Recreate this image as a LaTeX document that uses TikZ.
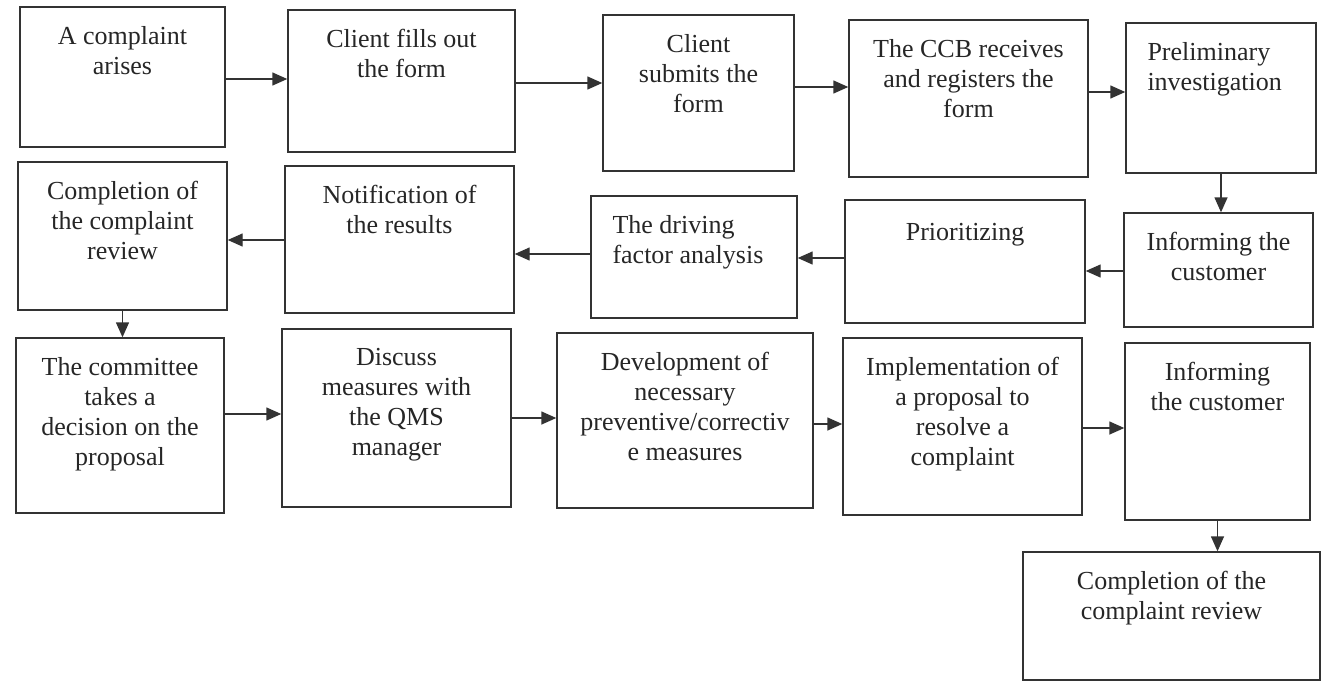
\documentclass[tikz,border=0pt]{standalone}
\usepackage{fontspec}
\setmainfont{Liberation Serif}
\usetikzlibrary{arrows.meta}

\definecolor{boxgray}{HTML}{333333}

\tikzset{
	procbox/.style={draw=boxgray,line width=1.4pt,inner sep=0pt},
	boxtext/.style={anchor=north,inner sep=0pt,yshift=-20pt,align=center,
		text=black!85,font=\fontsize{26}{30}\selectfont,execute at begin node=\strut},
	boxtextleft/.style={boxtext,anchor=north west,align=left,xshift=22pt},
	flow/.style={draw=boxgray,line width=1.4pt,-{Triangle[length=15pt,width=13pt]}}
}

\begin{document}
\begin{tikzpicture}[x=1pt,y=-1pt]
	\useasboundingbox (0,0) rectangle (1327,686);

	% First row, left to right:
	\node [procbox,minimum width=205pt,minimum height=140pt,
		label={[boxtext]north:{A complaint\\arises}}] (arises) at (122.5,77) {};
	\node [procbox,minimum width=227pt,minimum height=142pt,
		label={[boxtext]north:{Client fills out\\the form}}] (fills) at (401.5,81) {};
	\node [procbox,minimum width=191pt,minimum height=156pt,
		label={[boxtext]north:{Client\\submits the\\form}}] (submits) at (698.5,93) {};
	\node [procbox,minimum width=239pt,minimum height=157pt,
		label={[boxtext]north:{The CCB receives\\and registers the\\form}}] (registers) at (968.5,98.5) {};
	\node [procbox,minimum width=190pt,minimum height=150pt,
		label={[boxtextleft]north west:{Preliminary\\investigation}}] (prelim) at (1221,98) {};

	% Second row, right to left:
	\node [procbox,minimum width=189pt,minimum height=114pt,
		label={[boxtext]north:{Informing the\\customer}}] (informA) at (1218.5,270) {};
	\node [procbox,minimum width=240pt,minimum height=123pt,
		label={[boxtext]north:{Prioritizing}}] (prior) at (965,261.5) {};
	\node [procbox,minimum width=206pt,minimum height=122pt,
		label={[boxtextleft]north west:{The driving\\factor analysis}}] (driving) at (694,257) {};
	\node [procbox,minimum width=229pt,minimum height=147pt,
		label={[boxtext]north:{Notification of\\the results}}] (notify) at (399.5,239.5) {};
	\node [procbox,minimum width=209pt,minimum height=148pt,
		label={[boxtext]north:{Completion of\\the complaint\\review}}] (reviewA) at (122.5,236) {};

	% Third row, left to right:
	\node [procbox,minimum width=208pt,minimum height=175pt,
		label={[boxtext]north:{The committee\\takes a\\decision on the\\proposal}}] (committee) at (120,425.5) {};
	\node [procbox,minimum width=229pt,minimum height=178pt,
		label={[boxtext]north:{Discuss\\measures with\\the QMS\\manager}}] (discuss) at (396.5,418) {};
	\node [procbox,minimum width=256pt,minimum height=175pt,
		label={[boxtext]north:{Development of\\necessary\\preventive/correctiv\\e measures}}] (develop) at (685,420.5) {};
	\node [procbox,minimum width=239pt,minimum height=177pt,
		label={[boxtext]north:{Implementation of\\a proposal to\\resolve a\\complaint}}] (implement) at (962.5,426.5) {};
	\node [procbox,minimum width=185pt,minimum height=177pt,
		label={[boxtext]north:{Informing\\the customer}}] (informB) at (1217.5,431.5) {};

	% Last box:
	\node [procbox,minimum width=297pt,minimum height=128pt,
		label={[boxtext]north:{Completion of the\\complaint review}}] (reviewB) at (1171.5,616) {};

	% Connectors:
	\draw [flow] ([yshift=-2pt]arises.east) -- ([yshift=-2pt]arises.east -| fills.west);
	\draw [flow] ([yshift=-2pt]fills.east) -- ([yshift=-2pt]fills.east -| submits.west);
	\draw [flow] ([yshift=6pt]submits.east) -- ([yshift=6pt]submits.east -| registers.west);
	\draw [flow] ([yshift=6.5pt]registers.east) -- ([yshift=6.5pt]registers.east -| prelim.west);
	\draw [flow] (prelim.south) -- (prelim.south |- informA.north);

	\draw [flow] ([yshift=-1pt]informA.west) -- ([yshift=-1pt]informA.west -| prior.east);
	\draw [flow] ([yshift=3.5pt]prior.west) -- ([yshift=3.5pt]prior.west -| driving.east);
	\draw [flow] ([yshift=3pt]driving.west) -- ([yshift=3pt]driving.west -| notify.east);
	\draw [flow] ([yshift=-0.5pt]notify.west) -- ([yshift=-0.5pt]notify.west -| reviewA.east);
	\draw [flow] (reviewA.south) -- (reviewA.south |- committee.north);

	\draw [flow] ([yshift=11.5pt]committee.east) -- ([yshift=11.5pt]committee.east -| discuss.west);
	\draw [flow] (discuss.east) -- (discuss.east -| develop.west);
	\draw [flow] ([yshift=-3.5pt]develop.east) -- ([yshift=-3.5pt]develop.east -| implement.west);
	\draw [flow] ([yshift=-1.5pt]implement.east) -- ([yshift=-1.5pt]implement.east -| informB.west);
	\draw [flow] (informB.south) -- (informB.south |- reviewB.north);
\end{tikzpicture}
\end{document}
